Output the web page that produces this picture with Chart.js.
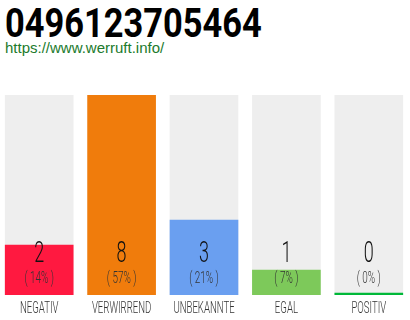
<!DOCTYPE html>
<html>
<head>
<meta charset="utf-8">
<script src="https://cdn.jsdelivr.net/npm/chart.js@4.4.1/dist/chart.umd.min.js"></script>
<style>
  html, body { margin: 0; padding: 0; background: #fff; width: 410px; height: 320px; overflow: hidden; }
  #title {
    position: absolute; left: 5px; top: 3px;
    font-family: Roboto, sans-serif; font-weight: 700; font-size: 41px; line-height: 41px;
    color: #000; transform: scaleX(0.84); transform-origin: left top; white-space: nowrap;
  }
  #url {
    position: absolute; left: 5px; top: 40px;
    font-family: "Liberation Sans", Arial, sans-serif; font-size: 15px; line-height: 15px;
    color: #217a2c;
  }
  #wrap { position: absolute; left: -2px; top: 0; width: 412px; height: 320px; }
</style>
</head>
<body>
<div id="title">0496123705464</div>
<div id="url">https://www.werruft.info/</div>
<div id="wrap"><canvas id="chart"></canvas></div>
<script>
// Daten
const categories = ['NEGATIV', 'VERWIRREND', 'UNBEKANNTE', 'EGAL', 'POSITIV'];
const counts = [2, 8, 3, 1, 0];
const barColors = ['#ff1940', '#f07c0c', '#6a9ff0', '#7dc95a', '#00b838'];
const yMax = 8;

const total = counts.reduce((a, b) => a + b, 0);
const percents = counts.map(v => Math.round(v / total * 100));

// Texte unter/in den Balken selbst zeichnen (schmale Schrift)
const labelPlugin = {
  id: 'labels',
  afterDatasetsDraw(chart) {
    const ctx = chart.ctx;
    const xs = chart.scales.x;
    const bottom = chart.chartArea.bottom;
    function draw(text, x, y, font, color, sx) {
      ctx.save();
      ctx.translate(x, y);
      ctx.scale(sx, 1);
      ctx.font = font;
      ctx.fillStyle = color;
      ctx.textAlign = 'center';
      ctx.textBaseline = 'alphabetic';
      ctx.fillText(text, 0, 0);
      ctx.restore();
    }
    categories.forEach((c, i) => {
      const x = xs.getPixelForValue(i);
      draw(String(counts[i]), x, bottom - 33, '300 30px Roboto', '#111', 0.6);
      draw('( ' + percents[i] + '% )', x, bottom - 12, '300 16px Roboto', '#333', 0.62);
      draw(c, x, bottom + 18, '300 16px Roboto', '#333', 0.6);
    });
  }
};

new Chart(document.getElementById('chart'), {
  type: 'bar',
  data: {
    labels: categories,
    datasets: [{
      data: counts,
      backgroundColor: barColors,
      barThickness: 68,
      minBarLength: 2,
      order: 0
    }, {
      data: categories.map(() => yMax),
      backgroundColor: '#eeeeee',
      barThickness: 68,
      order: 1
    }]
  },
  options: {
    responsive: true,
    maintainAspectRatio: false,
    animation: false,
    datasets: { bar: { grouped: false, borderWidth: 0 } },
    layout: { padding: { top: 95, bottom: 25, left: 0, right: 0 } },
    plugins: { legend: { display: false }, tooltip: { enabled: false } },
    scales: {
      x: { display: false },
      y: { display: false, min: 0, max: yMax }
    }
  },
  plugins: [labelPlugin]
});
</script>
</body>
</html>
